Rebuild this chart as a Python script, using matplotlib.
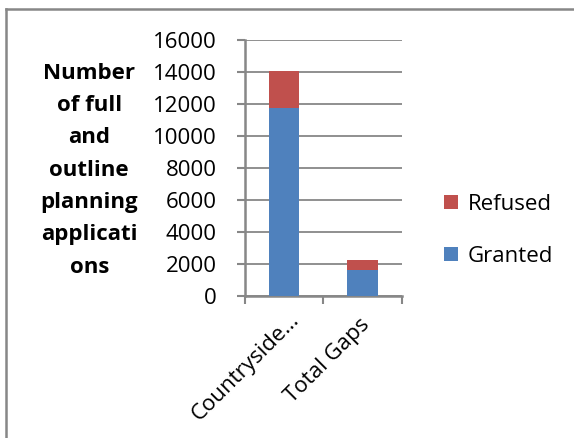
import matplotlib.pyplot as plt
from matplotlib.lines import Line2D

categories = ["Countryside\u2026", "Total Gaps"]
granted = [11700, 1630]
refused = [2350, 600]
yticks = [0, 2000, 4000, 6000, 8000, 10000, 12000, 14000, 16000]

plt.rcParams['font.family'] = ['Open Sans', 'DejaVu Sans']
fs = 16

grey = '#878787'
fig = plt.figure(figsize=(5.74, 4.38), dpi=100)
ax = fig.add_axes([0.4263, 0.3249, 0.2735, 0.5845])

x = range(len(categories))
b1 = ax.bar(x, granted, width=0.39, color='#4F81BD', label='Granted', zorder=3)
b2 = ax.bar(x, refused, width=0.39, bottom=granted, color='#C0504D', label='Refused', zorder=3)

ax.set_xlim(-0.5, 1.5)
ax.set_ylim(0, 16000)
ax.set_yticks(yticks)
ax.set_yticklabels([str(v) for v in yticks], fontsize=fs)
ax.yaxis.grid(True, color=grey, linewidth=1.3, zorder=0)
ax.set_axisbelow(True)

for s in ['top', 'right']:
    ax.spines[s].set_visible(False)
for s in ['left', 'bottom']:
    ax.spines[s].set_color(grey)
    ax.spines[s].set_linewidth(1.8)

ax.tick_params(axis='y', direction='out', length=6, width=1.5, color=grey, pad=14)
ax.set_xticks([-0.5, 0.5, 1.5])
ax.set_xticklabels([])
ax.tick_params(axis='x', direction='out', length=6, width=1.5, color=grey)

offsets = [(9, -15), (3, -19)]
for i, lab in enumerate(categories):
    ax.annotate(lab, xy=(i, 0), xycoords=('data', 'data'), xytext=offsets[i],
                textcoords='offset points', rotation=45, rotation_mode='anchor',
                ha='right', va='center', fontsize=fs)

ax.set_ylabel("Number\nof full\nand\noutline\nplanning\napplicati\nons",
              fontsize=fs, fontweight='bold', rotation=0, ha='center', va='center',
              linespacing=1.71)
ax.yaxis.set_label_coords(-0.99, 0.49)

ax.legend(handles=[b2, b1], loc='center left', bbox_to_anchor=(1.145, 0.255),
          frameon=False, fontsize=fs, labelspacing=1.4, handlelength=0.6,
          handleheight=0.6, handletextpad=0.45)

# outer chart frame (cropped on right and bottom)
fig.add_artist(Line2D([6 / 574, 1], [1 - 9.3 / 438, 1 - 9.3 / 438], color=grey, lw=1.8))
fig.add_artist(Line2D([6 / 574, 6 / 574], [0, 1 - 9.3 / 438], color=grey, lw=1.8))

fig.savefig('out.png', dpi=100)
